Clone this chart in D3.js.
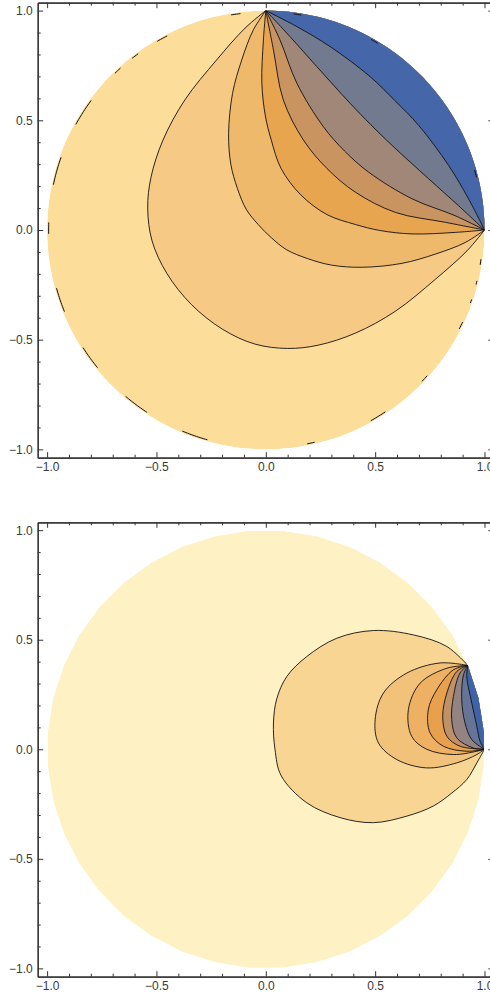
<!DOCTYPE html>
<html>
<head>
<meta charset="utf-8">
<script src="https://cdn.jsdelivr.net/npm/d3@7"></script>
<style>
    body { margin: 0; background: #fff; }
    .axis text { font-family: "Liberation Sans", Arial, sans-serif; font-size: 12px; fill: #3a3a3a; }
    .axis path, .axis line { stroke: #333; }
</style>
</head>
<body>
<svg id="chart" width="490" height="1001"></svg>
<script>
// ---------- data ----------
const majorTicks = [-1, -0.5, 0, 0.5, 1];
const minorTicks = [-0.9, -0.8, -0.7, -0.6, -0.4, -0.3, -0.2, -0.1, 0.1, 0.2, 0.3, 0.4, 0.6, 0.7, 0.8, 0.9];

// top panel: boundary arc (degrees) where the contours meet
const topArc = [0, 90];
// contour lines, traced from the upper end of the arc round to the lower end
const topContours = [
    [[-0.095, 0.92], [-0.225, 0.775], [-0.37, 0.593], [-0.47, 0.41], [-0.525, 0.24], [-0.54, 0.1], [-0.52, -0.05],
     [-0.453, -0.197], [-0.34, -0.34], [-0.197, -0.453], [-0.05, -0.52], [0.1, -0.54], [0.24, -0.525],
     [0.41, -0.47], [0.593, -0.37], [0.775, -0.225], [0.92, -0.095]],
    [[-0.057, 0.912], [-0.11, 0.775], [-0.152, 0.623], [-0.17, 0.441], [-0.16, 0.3], [-0.13, 0.19],
     [-0.09, 0.095], [-0.035, 0.025], [0.025, -0.035], [0.095, -0.09], [0.19, -0.13], [0.3, -0.16], [0.441, -0.17],
     [0.623, -0.152], [0.775, -0.11], [0.912, -0.057]],
    [[-0.011, 0.866], [-0.018, 0.669], [-0.002, 0.52], [0.025, 0.41], [0.07, 0.28], [0.16, 0.16], [0.28, 0.07],
     [0.41, 0.025], [0.52, -0.002], [0.669, -0.018], [0.866, -0.011]],
    [[0.035, 0.821], [0.08, 0.593], [0.172, 0.41], [0.28, 0.28], [0.41, 0.172], [0.593, 0.08], [0.821, 0.035]],
    [[0.065, 0.866], [0.142, 0.669], [0.263, 0.471], [0.36, 0.36], [0.471, 0.263], [0.669, 0.142], [0.866, 0.065]],
    [[0.111, 0.881], [0.233, 0.745], [0.385, 0.578], [0.48, 0.48], [0.578, 0.385], [0.745, 0.233], [0.881, 0.111]],
    [[0.142, 0.927], [0.294, 0.836], [0.477, 0.699], [0.59, 0.59], [0.699, 0.477], [0.836, 0.294], [0.927, 0.142]]
];
const topColors = ["#fddd9a", "#f6ca84", "#efb96c", "#e8a550", "#ca9460", "#a08777", "#727a8f", "#4566a8"];
// short black marks along the rim (start/end angle, degrees)
const topRimMarks = [[14, 16], [59, 61], [80.6, 83], [96.7, 99.4], [117, 120], [126, 128], [132, 134], [143.5, 151],
    [160.5, 168], [178, 181], [195.5, 202.4], [212.7, 219.3], [229.8, 237], [247.4, 254.4], [281, 283],
    [298.9, 303.6], [316, 318], [333, 335], [340.4, 341.4], [345.5, 346.5], [350.8, 352.5]];

// bottom panel
const bottomArc = [0, 22.5];
const bottomContours = [
    [[0.828, 0.469], [0.675, 0.522], [0.492, 0.542], [0.325, 0.507], [0.187, 0.423], [0.096, 0.332], [0.05, 0.23],
     [0.035, 0.12], [0.042, 0.0], [0.07, -0.12], [0.187, -0.244], [0.34, -0.312], [0.492, -0.335],
     [0.645, -0.305], [0.766, -0.259], [0.85, -0.2], [0.919, -0.138], [0.965, -0.062]],
    [[0.797, 0.394], [0.645, 0.348], [0.538, 0.257], [0.5, 0.135], [0.515, 0.029], [0.599, -0.047], [0.736, -0.085],
     [0.873, -0.062], [0.965, -0.024]],
    [[0.828, 0.37], [0.706, 0.302], [0.652, 0.181], [0.667, 0.059], [0.736, 0.0], [0.858, -0.024], [0.965, -0.009]],
    [[0.858, 0.363], [0.782, 0.272], [0.743, 0.181], [0.751, 0.075], [0.812, 0.014], [0.919, -0.009]],
    [[0.873, 0.355], [0.828, 0.257], [0.809, 0.15], [0.828, 0.059], [0.888, 0.014]],
    [[0.888, 0.348], [0.858, 0.241], [0.85, 0.135], [0.873, 0.052], [0.949, 0.006]],
    [[0.904, 0.34], [0.896, 0.226], [0.911, 0.12], [0.942, 0.044]],
    [[0.919, 0.332], [0.942, 0.211], [0.965, 0.105], [0.98, 0.036]]
];
const bottomColors = ["#fef1c4", "#f9d593", "#f3c27a", "#eeb062", "#e8a04c", "#bf9169", "#938383", "#667597", "#3e63a8"];
const bottomRimMarks = [];

// ---------- drawing ----------
const svg = d3.select("#chart");
const rad = Math.PI / 180;

function drawPanel(cfg) {
    const g = svg.append("g");

    const x = d3.scaleLinear().domain([-1.043, 1.043]).range([37.7, 493.9]);
    const y = d3.scaleLinear().domain([-1.038, 1.036]).range([cfg.bottom, cfg.top]);

    const curve = d3.line()
        .x(d => x(d[0])).y(d => y(d[1]))
        .curve(d3.curveCatmullRom.alpha(0.5));
    const straight = d3.line().x(d => x(d[0])).y(d => y(d[1]));

    // the disk is sampled as a polygon (coarse in the lower panel, like the original)
    const step = 360 / cfg.sides;
    const disk = d3.range(cfg.sides).map(k => {
        const a = (cfg.sideOffset + k * step) * rad;
        return [Math.cos(a), Math.sin(a)];
    });
    const diskPath = straight(disk) + "Z";

    const clipId = "clip-" + cfg.name;
    g.append("clipPath").attr("id", clipId)
        .append("path").attr("d", diskPath);

    const plot = g.append("g").attr("clip-path", `url(#${clipId})`);

    plot.append("path")
        .attr("d", diskPath)
        .attr("fill", cfg.colors[0]);

    const a0 = cfg.arc[0], a1 = cfg.arc[1];
    const endHigh = [Math.cos(a1 * rad), Math.sin(a1 * rad)];
    const endLow = [Math.cos(a0 * rad), Math.sin(a0 * rad)];

    // arc just outside the rim, from low end back to high end
    const rim = d3.range(a0, a1 + 0.5, 1).concat([a1])
        .map(a => [1.05 * Math.cos(a * rad), 1.05 * Math.sin(a * rad)]);

    const lines = cfg.contours.map(c => [endHigh].concat(c, [endLow]));

    lines.forEach((pts, i) => {
        const d = curve(pts) + straight([endLow].concat(rim, [endHigh])).replace(/^M/, "L") + "Z";
        plot.append("path")
            .attr("d", d)
            .attr("fill", cfg.colors[i + 1]);
    });

    plot.selectAll(".contour")
        .data(lines)
        .enter().append("path")
        .attr("class", "contour")
        .attr("d", curve)
        .attr("fill", "none")
        .attr("stroke", "#111")
        .attr("stroke-width", 0.9);

    // rim marks
    g.selectAll(".rim")
        .data(cfg.marks)
        .enter().append("path")
        .attr("class", "rim")
        .attr("d", m => straight(d3.range(m[0], m[1] + 0.1, 0.5)
            .map(a => [0.993 * Math.cos(a * rad), 0.993 * Math.sin(a * rad)])))
        .attr("fill", "none")
        .attr("stroke", "#111")
        .attr("stroke-width", 1);

    // frame with inward ticks
    const fmt = d3.format(".1f");
    const frame = [
        {ax: d3.axisBottom(x), at: `translate(0,${cfg.bottom})`, lab: true},
        {ax: d3.axisTop(x), at: `translate(0,${cfg.top})`, lab: false},
        {ax: d3.axisLeft(y), at: `translate(37.7,0)`, lab: true},
        {ax: d3.axisRight(y), at: `translate(493.9,0)`, lab: false}
    ];
    frame.forEach(f => {
        g.append("g").attr("class", "axis").attr("transform", f.at)
            .call(f.ax.tickValues(minorTicks).tickSize(-3).tickSizeOuter(0).tickFormat(""));
        g.append("g").attr("class", "axis").attr("transform", f.at)
            .call(f.ax.tickValues(majorTicks).tickSize(-5.5).tickSizeOuter(0).tickPadding(5)
                .tickFormat(f.lab ? fmt : ""));
    });
    g.selectAll(".axis .domain").attr("stroke-width", 1.2);
}

drawPanel({name: "top", top: 2.7, bottom: 457.7, arc: topArc, contours: topContours, colors: topColors,
    marks: topRimMarks, sides: 180, sideOffset: 0});
drawPanel({name: "bottom", top: 522.3, bottom: 976.7, arc: bottomArc, contours: bottomContours, colors: bottomColors,
    marks: bottomRimMarks, sides: 40, sideOffset: 4.5});
</script>
</body>
</html>
